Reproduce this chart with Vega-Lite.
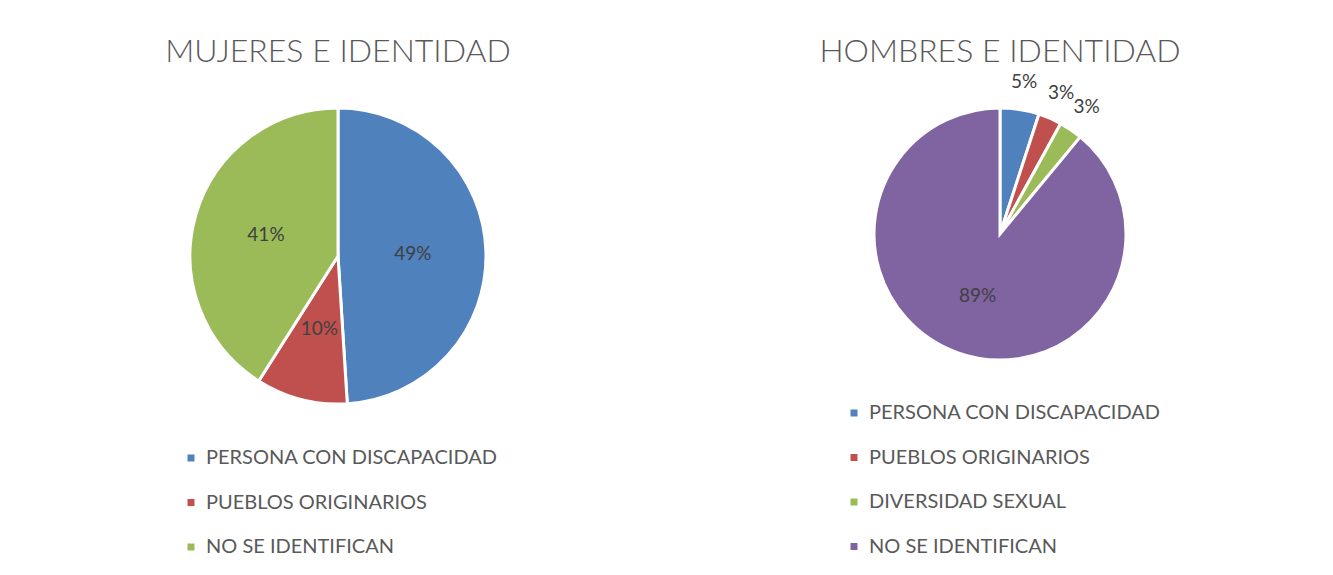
{
  "$schema": "https://vega.github.io/schema/vega-lite/v6.json",
  "padding": {"left": 158, "top": 35, "right": 0, "bottom": 0},
  "background": "white",
  "spacing": 332,
  "bounds": "flush",
  "config": {
    "view": {"stroke": null},
    "font": "Lato",
    "title": {"font": "Lato", "fontWeight": 300, "fontSize": 32, "color": "#595959", "anchor": "middle", "frame": "group", "baseline": "alphabetic"},
    "legend": {"labelFont": "Lato", "labelFontSize": 20, "labelColor": "#595959", "labelLimit": 0, "symbolType": "square", "symbolSize": 49, "symbolStrokeWidth": 0, "padding": 0, "labelOffset": 5, "rowPadding": 24.5}
  },
  "resolve": {"scale": {"color": "independent", "theta": "independent"}, "legend": {"color": "independent"}},
  "hconcat": [
    {
      "title": {"text": "MUJERES E IDENTIDAD", "offset": 15},
      "width": 360,
      "height": 344,
      "data": {"values": [
        {"cat": "PERSONA CON DISCAPACIDAD", "v": 0.49, "k": 1},
        {"cat": "PUEBLOS ORIGINARIOS", "v": 0.10, "k": 2},
        {"cat": "NO SE IDENTIFICAN", "v": 0.41, "k": 3}
      ]},
      "encoding": {
        "theta": {"field": "v", "type": "quantitative", "stack": true},
        "order": {"field": "k", "type": "quantitative"},
        "color": {"field": "cat", "type": "nominal",
          "scale": {"domain": ["PERSONA CON DISCAPACIDAD", "PUEBLOS ORIGINARIOS", "NO SE IDENTIFICAN"], "range": ["#4F81BD", "#C0504D", "#9BBB59"]},
          "legend": {"title": null, "orient": "none", "legendX": 23, "legendY": 364, "direction": "vertical"}}
      },
      "layer": [
        {"mark": {"type": "arc", "outerRadius": 148, "stroke": "white", "strokeWidth": 3}},
        {"mark": {"type": "text", "radius": 75, "fontSize": 19, "font": "Lato"},
         "encoding": {"text": {"field": "v", "type": "quantitative", "format": ".0%"}, "color": {"value": "#404040"}}}
      ]
    },
    {
      "title": {"text": "HOMBRES E IDENTIDAD", "offset": 4},
      "width": 300,
      "height": 300,
      "data": {"values": [
        {"cat": "PERSONA CON DISCAPACIDAD", "v": 0.05, "k": 1},
        {"cat": "PUEBLOS ORIGINARIOS", "v": 0.03, "k": 2},
        {"cat": "DIVERSIDAD SEXUAL", "v": 0.03, "k": 3},
        {"cat": "NO SE IDENTIFICAN", "v": 0.89, "k": 4}
      ]},
      "encoding": {
        "theta": {"field": "v", "type": "quantitative", "stack": true},
        "order": {"field": "k", "type": "quantitative"},
        "color": {"field": "cat", "type": "nominal",
          "scale": {"domain": ["PERSONA CON DISCAPACIDAD", "PUEBLOS ORIGINARIOS", "DIVERSIDAD SEXUAL", "NO SE IDENTIFICAN"], "range": ["#4F81BD", "#C0504D", "#9BBB59", "#8064A2"]},
          "legend": {"title": null, "orient": "none", "legendX": -6, "legendY": 319, "direction": "vertical"}}
      },
      "layer": [
        {"mark": {"type": "arc", "outerRadius": 126, "stroke": "white", "strokeWidth": 3}},
        {"mark": {"type": "text", "radius": 66, "fontSize": 19, "font": "Lato"},
         "encoding": {"text": {"condition": {"test": "datum.v < 0.2", "value": ""}, "field": "v", "type": "quantitative", "format": ".0%"}, "color": {"value": "#404040"}}},
        {"mark": {"type": "text", "radius": 154, "fontSize": 19, "font": "Lato"},
         "encoding": {"text": {"condition": {"test": "datum.v > 0.2", "value": ""}, "field": "v", "type": "quantitative", "format": ".0%"}, "color": {"value": "#404040"}}}
      ]
    }
  ]
}
